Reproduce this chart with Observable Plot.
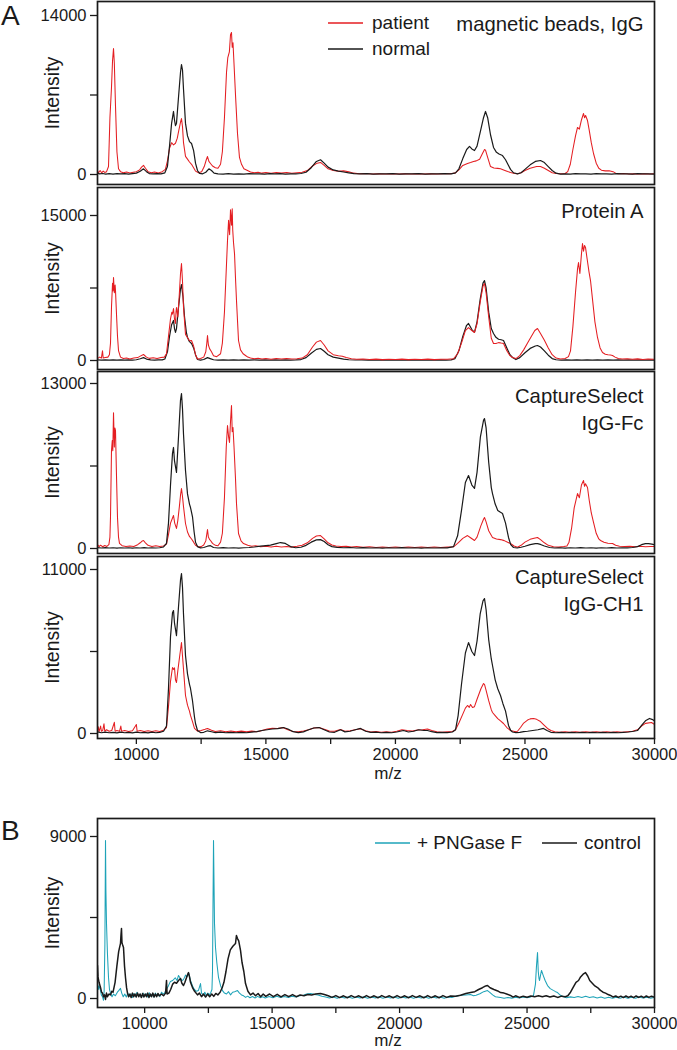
<!DOCTYPE html>
<html><head><meta charset="utf-8">
<script src="https://cdn.jsdelivr.net/npm/d3@7"></script>
<script src="https://cdn.jsdelivr.net/npm/@observablehq/plot@0.6"></script>
<style>
body{margin:0;background:#fff;}
#root{position:relative;width:677px;height:1050px;overflow:hidden;font-family:Arial,"Liberation Sans",Helvetica,sans-serif;color:#1a1a1a;}
</style></head><body><div id="root"></div>
<script>
// ---------- data: [m/z, intensity] ----------
const beadsPatient = [[8500,300],[8540,150],[8600,350],[8660,150],[8720,300],[8780,180],[8850,250],[8925,700],[8980,5000],[9040,7660],[9080,10000],[9118,11090],[9150,9800],[9195,6000],[9250,2000],[9311,500],[9388,250],[9500,150],[9620,220],[9750,130],[9880,200],[10000,250],[10120,400],[10200,650],[10276,800],[10350,550],[10450,250],[10580,150],[10700,220],[10850,130],[11000,250],[11120,450],[11200,1200],[11280,2300],[11360,2800],[11434,2600],[11510,2750],[11580,3200],[11640,3900],[11704,4600],[11742,4930],[11781,4200],[11820,2800],[11897,1600],[11974,1350],[12050,1100],[12130,900],[12210,600],[12283,300],[12399,150],[12520,250],[12620,700],[12700,1300],[12746,1580],[12800,1150],[12862,970],[12940,750],[13050,600],[13150,550],[13250,900],[13320,2000],[13400,5000],[13480,9000],[13530,10300],[13590,10800],[13634,12300],[13672,12500],[13700,11200],[13730,11600],[13760,10200],[13827,7000],[13904,3610],[13980,1500],[14060,900],[14150,500],[14290,350],[14406,220],[14550,150],[14700,200],[14850,120],[15000,180],[15200,110],[15400,170],[15600,120],[15800,180],[16000,110],[16200,150],[16400,200],[16600,350],[16800,750],[16980,1000],[17108,1060],[17250,800],[17400,500],[17600,350],[17800,280],[18000,320],[18200,250],[18382,120],[18600,60],[18850,80],[19100,50],[19350,70],[19600,40],[19850,70],[20100,50],[20350,70],[20600,40],[20850,70],[21100,50],[21350,70],[21600,40],[21850,70],[22100,60],[22300,120],[22450,400],[22600,800],[22782,970],[22900,1050],[23014,1140],[23120,1200],[23250,1350],[23350,1800],[23440,2200],[23477,2150],[23560,1500],[23670,700],[23800,580],[23950,540],[24056,500],[24200,380],[24330,260],[24442,180],[24600,90],[24712,60],[24850,150],[25000,350],[25200,550],[25450,700],[25600,700],[25750,550],[25900,350],[26050,150],[26200,80],[26372,60],[26550,90],[26650,250],[26750,900],[26850,2200],[26951,3400],[27028,4140],[27100,4000],[27180,4800],[27260,5370],[27300,5000],[27340,5200],[27414,4750],[27480,3900],[27560,2800],[27646,1850],[27750,1000],[27850,550],[27950,380],[28100,320],[28250,330],[28400,250],[28500,120],[28600,60],[28800,80],[29000,50],[29200,70],[29400,40],[29600,70],[29800,50],[30000,60]];
const beadsNormal = [[8500,120],[8580,60],[8700,90],[8820,40],[8950,70],[9100,40],[9250,80],[9400,50],[9550,70],[9700,40],[9850,80],[10000,120],[10150,280],[10276,500],[10391,250],[10500,80],[10650,50],[10800,70],[10950,60],[11100,150],[11200,700],[11280,2500],[11360,4500],[11434,5550],[11472,4800],[11510,4310],[11549,4500],[11627,6800],[11704,9000],[11742,9680],[11781,9200],[11820,7500],[11897,4500],[11974,3400],[12050,2900],[12130,2730],[12210,2100],[12283,1000],[12360,350],[12440,100],[12560,60],[12680,200],[12800,500],[12900,350],[13000,120],[13150,60],[13350,40],[13550,70],[13750,40],[13950,60],[14150,40],[14350,70],[14550,50],[14750,60],[14950,40],[15150,80],[15350,50],[15550,70],[15750,40],[15950,60],[16150,50],[16350,90],[16550,200],[16750,600],[16950,1150],[17108,1300],[17250,1000],[17400,650],[17600,400],[17800,300],[18000,220],[18200,150],[18400,80],[18650,50],[18900,70],[19150,40],[19400,60],[19650,50],[19900,70],[20150,40],[20400,60],[20650,50],[20900,70],[21150,40],[21400,60],[21650,50],[21900,70],[22150,60],[22320,150],[22450,500],[22600,1400],[22750,2200],[22859,2470],[22950,2250],[23052,2110],[23150,2500],[23280,3800],[23400,5000],[23477,5550],[23560,5000],[23670,3500],[23786,2380],[23900,1950],[24000,1800],[24133,1670],[24250,1300],[24365,800],[24442,450],[24560,150],[24712,50],[24850,150],[25000,450],[25200,850],[25400,1150],[25600,1230],[25750,1050],[25900,700],[26050,350],[26200,120],[26372,40],[26550,60],[26750,40],[26950,70],[27150,50],[27350,60],[27550,40],[27750,70],[27950,50],[28150,60],[28350,40],[28550,70],[28750,50],[28950,60],[29150,40],[29350,70],[29550,50],[29750,60],[30000,40]];
const protAPatient = [[8500,200],[8580,350],[8650,250],[8693,1000],[8720,250],[8800,300],[8900,350],[8960,600],[9002,1800],[9040,5500],[9080,8000],[9100,7200],[9118,8580],[9150,7000],[9180,7800],[9195,7240],[9230,5000],[9272,2500],[9311,1030],[9388,350],[9500,200],[9620,250],[9750,150],[9900,250],[10050,300],[10150,450],[10276,620],[10391,350],[10500,220],[10650,280],[10800,200],[10950,300],[11080,350],[11163,700],[11240,2500],[11318,4300],[11370,5000],[11395,4800],[11434,5380],[11472,4300],[11510,3830],[11530,5000],[11549,5480],[11600,4500],[11650,6500],[11704,9000],[11742,10030],[11781,8200],[11820,5500],[11897,2700],[11974,2380],[12050,2050],[12130,2070],[12210,1500],[12283,600],[12360,150],[12476,200],[12600,350],[12680,900],[12720,1800],[12746,2590],[12780,1600],[12830,1200],[12900,900],[12978,500],[13100,400],[13250,700],[13320,1800],[13400,5000],[13480,10000],[13518,12400],[13560,14500],[13600,13000],[13634,15600],[13672,14000],[13700,15700],[13720,13500],[13750,12200],[13790,11000],[13827,8500],[13865,6200],[13943,2070],[14020,1100],[14120,700],[14213,520],[14300,350],[14406,250],[14550,180],[14700,230],[14850,150],[15000,200],[15200,130],[15400,200],[15600,150],[15800,200],[16000,150],[16200,180],[16400,250],[16600,600],[16800,1400],[16950,1900],[17108,2070],[17250,1600],[17400,1000],[17600,600],[17800,500],[17950,450],[18100,300],[18300,180],[18500,120],[18750,150],[19000,100],[19250,140],[19500,90],[19750,130],[20000,100],[20250,140],[20500,90],[20750,130],[21000,100],[21250,140],[21500,90],[21750,130],[22000,120],[22242,180],[22400,700],[22550,1800],[22700,3100],[22821,3410],[22950,3100],[23052,2900],[23150,3800],[23270,6000],[23380,7700],[23438,7960],[23500,7000],[23600,4500],[23700,2300],[23786,1760],[23880,1750],[23980,1850],[24080,1800],[24172,1760],[24300,1000],[24420,500],[24519,310],[24650,200],[24800,500],[24950,1100],[25100,1800],[25250,2500],[25380,3100],[25484,3310],[25600,2800],[25750,2100],[25900,1300],[26050,600],[26200,250],[26372,150],[26550,200],[26680,400],[26758,1000],[26850,3500],[26950,7000],[27030,9500],[27067,10130],[27120,9000],[27180,11000],[27221,12100],[27260,11300],[27300,11900],[27337,11700],[27400,10500],[27470,9200],[27530,8270],[27600,6500],[27700,4000],[27800,2380],[27900,1300],[27993,830],[28100,650],[28200,600],[28300,560],[28379,520],[28480,350],[28600,200],[28750,150],[28950,180],[29150,120],[29350,170],[29550,110],[29750,160],[30000,130]];
const protANormal = [[8500,60],[8650,30],[8800,60],[8950,40],[9100,70],[9250,30],[9400,60],[9550,40],[9700,70],[9850,40],[10000,80],[10150,180],[10276,300],[10391,150],[10550,60],[10700,40],[10850,70],[11000,60],[11100,150],[11200,900],[11280,2500],[11360,3700],[11434,4140],[11472,3300],[11510,2900],[11549,3300],[11627,5500],[11704,7400],[11742,7860],[11800,6600],[11860,4500],[11930,2900],[11974,2380],[12050,1950],[12130,1760],[12210,1300],[12283,600],[12360,100],[12476,40],[12600,100],[12746,300],[12850,200],[12978,80],[13150,40],[13350,70],[13550,30],[13750,60],[13950,40],[14150,70],[14350,30],[14550,60],[14750,40],[14950,70],[15150,30],[15350,60],[15550,40],[15750,70],[15950,40],[16150,60],[16350,100],[16550,300],[16750,750],[16950,1150],[17108,1240],[17250,950],[17400,600],[17600,350],[17800,250],[18000,150],[18200,80],[18450,50],[18700,70],[18950,40],[19200,60],[19450,30],[19700,60],[19950,40],[20200,70],[20450,30],[20700,60],[20950,40],[21200,70],[21450,30],[21700,60],[21950,40],[22150,70],[22300,200],[22450,1000],[22600,2500],[22740,3600],[22821,3830],[22950,3200],[23052,2900],[23150,4000],[23270,6300],[23380,8000],[23438,8270],[23500,7500],[23600,5000],[23700,3300],[23786,2790],[23880,2400],[23980,2200],[24080,2150],[24172,2070],[24300,1300],[24420,600],[24519,310],[24650,100],[24800,300],[25000,800],[25200,1250],[25400,1500],[25484,1550],[25600,1400],[25750,1000],[25900,550],[26050,200],[26200,80],[26400,40],[26600,60],[26800,30],[27000,60],[27200,40],[27400,70],[27600,30],[27800,60],[28000,40],[28200,70],[28400,30],[28600,60],[28800,40],[29000,70],[29200,30],[29400,60],[29600,40],[29800,70],[30000,40]];
const fcPatient = [[8500,300],[8560,150],[8620,260],[8700,140],[8780,240],[8860,160],[8940,300],[8980,900],[9002,2500],[9040,7720],[9070,8500],[9090,7700],[9118,10700],[9150,8000],[9170,9500],[9195,9300],[9230,6000],[9272,2440],[9311,900],[9349,400],[9450,220],[9600,150],[9750,200],[9900,160],[10050,300],[10150,450],[10230,600],[10276,630],[10350,450],[10450,250],[10600,160],[10750,220],[10900,160],[11050,200],[11163,350],[11240,1100],[11318,2000],[11395,2400],[11434,2600],[11480,2000],[11549,1580],[11600,2200],[11660,3300],[11704,4200],[11742,4730],[11781,4100],[11820,3300],[11897,1970],[11974,1300],[12050,950],[12130,750],[12210,500],[12283,250],[12400,120],[12500,150],[12600,280],[12680,600],[12746,1500],[12780,900],[12830,700],[12862,630],[12940,400],[13050,250],[13150,220],[13250,500],[13320,1200],[13400,4000],[13470,8000],[13518,9690],[13560,8800],[13595,8350],[13634,10000],[13672,11270],[13700,9200],[13730,9530],[13770,8000],[13827,5500],[13865,3550],[13943,1180],[14040,600],[14136,390],[14300,260],[14450,170],[14600,220],[14800,130],[15000,180],[15200,110],[15400,170],[15600,120],[15800,160],[16000,110],[16200,170],[16400,250],[16600,450],[16800,800],[16950,980],[17108,1020],[17250,750],[17400,450],[17550,280],[17700,200],[17900,150],[18100,180],[18300,110],[18500,150],[18750,90],[19000,130],[19250,80],[19500,120],[19750,80],[20000,120],[20250,80],[20500,120],[20750,80],[21000,120],[21250,80],[21500,120],[21750,80],[22000,110],[22242,130],[22400,400],[22600,800],[22782,1020],[22900,850],[23052,630],[23150,900],[23300,1800],[23400,2300],[23438,2440],[23500,2100],[23600,1400],[23747,870],[23900,750],[24056,700],[24200,620],[24330,500],[24442,390],[24580,200],[24712,100],[24850,250],[25000,500],[25200,720],[25350,800],[25484,870],[25600,700],[25750,450],[25900,250],[26102,130],[26300,110],[26500,150],[26620,200],[26700,500],[26800,1600],[26900,3200],[27028,4330],[27100,4000],[27180,5000],[27260,5360],[27300,4900],[27337,5100],[27414,4810],[27480,3800],[27560,2800],[27646,2050],[27750,1200],[27850,750],[27916,630],[28050,500],[28200,420],[28379,390],[28500,250],[28650,180],[28850,150],[29050,180],[29250,140],[29450,170],[29650,130],[29850,160],[30000,150]];
const fcNormal = [[8500,70],[8650,40],[8800,70],[8950,40],[9100,60],[9250,30],[9400,60],[9550,40],[9700,60],[9850,30],[10000,60],[10150,40],[10300,70],[10450,40],[10600,60],[10750,40],[10900,60],[11050,120],[11163,400],[11240,2000],[11318,5000],[11395,7500],[11434,7960],[11472,6900],[11549,5990],[11627,8800],[11704,11700],[11742,12210],[11781,11000],[11820,9000],[11897,6150],[11974,4300],[12050,3500],[12090,3230],[12167,2500],[12230,1300],[12283,500],[12360,150],[12476,50],[12600,80],[12746,180],[12862,220],[12978,80],[13150,40],[13350,70],[13550,40],[13750,60],[13950,30],[14150,60],[14350,80],[14550,120],[14792,180],[15000,220],[15178,260],[15400,380],[15564,470],[15750,400],[15950,150],[16150,60],[16350,100],[16550,250],[16750,500],[16950,680],[17108,700],[17250,550],[17400,300],[17550,150],[17750,90],[18000,60],[18250,80],[18500,40],[18750,70],[19000,40],[19250,60],[19500,30],[19750,60],[20000,40],[20250,70],[20500,40],[20750,60],[21000,30],[21250,60],[21500,40],[21750,60],[22000,50],[22242,150],[22400,1000],[22550,3000],[22700,5200],[22821,5750],[22950,5000],[23052,4730],[23150,6000],[23280,8800],[23400,10100],[23438,10240],[23500,9500],[23600,6800],[23700,4800],[23747,4330],[23850,3500],[23950,3000],[24056,2850],[24133,2760],[24250,2000],[24365,870],[24450,300],[24558,80],[24700,40],[24850,100],[25000,180],[25200,300],[25400,380],[25484,390],[25600,320],[25750,200],[25950,80],[26150,40],[26350,60],[26550,30],[26750,60],[26950,40],[27150,70],[27350,40],[27550,60],[27750,30],[27950,60],[28150,40],[28350,70],[28550,40],[28750,60],[28950,50],[29150,80],[29344,150],[29500,300],[29650,380],[29769,390],[29900,350],[30000,300]];
const ch1Patient = [[8500,150],[8530,450],[8560,120],[8620,500],[8650,150],[8700,200],[8750,650],[8780,150],[8850,250],[8950,150],[9050,200],[9150,750],[9180,150],[9250,200],[9350,150],[9400,500],[9430,150],[9550,200],[9700,130],[9850,180],[10000,600],[10030,150],[10150,200],[10300,130],[10450,180],[10600,130],[10750,180],[10900,140],[11050,220],[11163,400],[11240,1800],[11318,3500],[11395,4430],[11434,4300],[11472,4400],[11510,3600],[11549,3420],[11600,4200],[11680,5300],[11742,6100],[11781,5200],[11820,4300],[11897,2550],[11974,1900],[12050,1500],[12090,1210],[12167,800],[12244,340],[12360,160],[12500,200],[12650,280],[12746,340],[12900,220],[13050,140],[13250,180],[13450,120],[13650,170],[13850,110],[14050,160],[14250,110],[14450,160],[14650,120],[14850,200],[15050,300],[15250,350],[15450,330],[15650,400],[15850,250],[16050,130],[16250,110],[16450,160],[16650,250],[16850,370],[17050,400],[17250,280],[17450,160],[17650,150],[17880,270],[18050,150],[18250,180],[18450,250],[18652,320],[18850,180],[19050,100],[19250,130],[19450,90],[19650,120],[19850,90],[20050,150],[20250,250],[20450,200],[20650,160],[20850,230],[21050,250],[21238,300],[21400,200],[21600,110],[21800,90],[22000,110],[22200,130],[22319,250],[22450,700],[22600,1300],[22700,1700],[22782,1880],[22850,1750],[22900,1950],[22975,1740],[23050,1800],[23150,2300],[23300,3000],[23400,3350],[23438,3300],[23500,2900],[23600,2200],[23700,1600],[23747,1410],[23850,1200],[23950,1000],[24056,850],[24172,670],[24300,400],[24442,200],[24600,130],[24712,150],[24828,400],[24950,700],[25100,900],[25200,980],[25330,1010],[25450,950],[25600,800],[25716,600],[25870,340],[26000,200],[26150,120],[26350,90],[26550,120],[26750,90],[26950,120],[27150,90],[27350,120],[27550,90],[27750,120],[27950,90],[28150,120],[28350,90],[28550,120],[28750,90],[28950,120],[29150,150],[29344,250],[29500,500],[29650,680],[29884,740],[30000,600]];
const ch1Normal = [[8500,110],[8650,50],[8800,90],[8950,50],[9100,80],[9250,40],[9400,90],[9550,50],[9700,80],[9850,40],[10000,90],[10150,50],[10300,80],[10450,40],[10600,90],[10750,50],[10900,80],[11050,150],[11163,500],[11240,3000],[11318,6500],[11395,8100],[11434,8250],[11472,7400],[11549,6570],[11627,8500],[11704,10300],[11742,10730],[11781,9800],[11820,8000],[11897,5230],[11974,4000],[12050,3300],[12090,3020],[12167,2200],[12244,1100],[12283,670],[12360,200],[12476,60],[12600,80],[12746,180],[12900,120],[13050,60],[13250,90],[13450,50],[13650,80],[13850,50],[14050,80],[14250,50],[14450,90],[14650,130],[14850,200],[15050,250],[15250,300],[15450,330],[15680,400],[15850,300],[16050,120],[16250,60],[16450,110],[16650,250],[16850,370],[17050,400],[17250,250],[17450,100],[17650,80],[17880,250],[18050,110],[18250,150],[18450,250],[18652,340],[18850,150],[19050,70],[19250,90],[19450,50],[19650,80],[19850,50],[20050,100],[20312,200],[20500,100],[20700,150],[20900,250],[21100,200],[21238,200],[21400,120],[21600,60],[21800,80],[22000,60],[22200,100],[22319,250],[22420,1200],[22550,3300],[22700,5400],[22821,6100],[22950,5500],[23052,5230],[23150,6200],[23270,8000],[23380,8900],[23438,9050],[23500,8300],[23600,6300],[23700,5000],[23747,4560],[23850,3600],[23950,3000],[24056,2550],[24150,2000],[24250,1500],[24365,540],[24450,200],[24519,100],[24650,60],[24800,80],[24950,120],[25100,150],[25300,200],[25500,250],[25716,340],[25850,200],[26000,80],[26200,50],[26400,80],[26600,50],[26800,80],[27000,50],[27200,80],[27400,50],[27600,80],[27800,50],[28000,80],[28200,50],[28400,80],[28600,50],[28800,80],[29000,100],[29200,150],[29344,200],[29500,550],[29650,850],[29807,1010],[29900,950],[30000,850]];
const pngase = [[8150,890],[8180,500],[8210,700],[8268,440],[8300,200],[8346,100],[8385,-100],[8410,400],[8440,3000],[8464,8780],[8480,6000],[8503,4170],[8540,2500],[8582,1170],[8620,500],[8660,300],[8720,100],[8780,250],[8850,150],[8930,350],[8990,450],[9052,560],[9100,300],[9160,100],[9220,250],[9280,80],[9340,300],[9400,120],[9460,250],[9520,60],[9580,280],[9640,100],[9700,350],[9760,120],[9820,250],[9880,60],[9940,300],[10000,120],[10060,260],[10120,80],[10180,320],[10240,120],[10300,250],[10360,80],[10420,300],[10480,150],[10540,250],[10600,100],[10660,350],[10720,250],[10780,300],[10850,500],[10930,700],[11010,950],[11100,1000],[11200,1150],[11270,1000],[11328,1280],[11406,1100],[11470,1000],[11524,1050],[11602,1300],[11660,1200],[11720,1440],[11798,1000],[11877,700],[11950,500],[12030,400],[12110,450],[12191,830],[12230,300],[12300,200],[12360,350],[12420,150],[12480,300],[12540,200],[12600,350],[12640,500],[12661,1500],[12680,5000],[12701,8780],[12720,6500],[12740,4170],[12779,2830],[12830,2000],[12897,1170],[12980,700],[13054,440],[13130,300],[13210,250],[13290,380],[13370,200],[13450,350],[13530,380],[13642,440],[13720,300],[13800,200],[13880,150],[13960,60],[14040,130],[14130,40],[14230,110],[14330,30],[14430,120],[14530,40],[14630,100],[14730,30],[14880,110],[15030,40],[15180,120],[15330,50],[15480,110],[15630,60],[15780,130],[15930,80],[16080,150],[16230,180],[16350,250],[16506,280],[16650,230],[16800,200],[16950,120],[17100,80],[17250,30],[17400,90],[17550,20],[17700,80],[17850,30],[18000,90],[18150,20],[18300,80],[18450,30],[18600,90],[18750,20],[18900,80],[19050,30],[19200,90],[19350,20],[19500,80],[19650,30],[19800,90],[19950,20],[20100,80],[20250,30],[20400,90],[20550,20],[20700,80],[20850,30],[21000,90],[21150,20],[21300,80],[21450,30],[21600,90],[21750,20],[21900,80],[22050,50],[22200,120],[22390,180],[22600,200],[22783,220],[22900,150],[23000,180],[23150,260],[23300,380],[23450,440],[23550,330],[23650,200],[23760,100],[23960,50],[24100,10],[24250,60],[24400,20],[24550,70],[24700,30],[24850,80],[25000,40],[25150,90],[25250,150],[25330,800],[25370,1800],[25411,2560],[25440,1500],[25470,1100],[25490,1000],[25530,1300],[25568,1560],[25630,1300],[25710,1000],[25804,720],[25910,550],[26030,450],[26120,380],[26196,330],[26310,180],[26431,100],[26550,40],[26700,90],[26850,50],[27000,110],[27150,60],[27300,120],[27450,50],[27600,100],[27750,30],[27900,80],[28050,20],[28200,70],[28350,10],[28500,70],[28650,20],[28800,80],[28950,20],[29100,70],[29250,20],[29400,80],[29550,30],[29700,70],[29850,20],[30000,60]];
const control = [[8150,1830],[8170,1200],[8210,900],[8268,610],[8310,350],[8346,300],[8385,100],[8425,200],[8464,-50],[8503,300],[8542,100],[8600,250],[8660,200],[8710,400],[8760,350],[8840,900],[8910,1800],[8980,2600],[9052,3060],[9070,3500],[9091,3890],[9110,3100],[9131,3000],[9170,2830],[9210,1800],[9248,1170],[9290,600],[9327,300],[9370,100],[9420,250],[9470,50],[9520,300],[9570,100],[9620,250],[9670,80],[9720,300],[9770,100],[9820,250],[9870,50],[9920,280],[9970,80],[10020,250],[10070,100],[10120,300],[10170,50],[10220,250],[10270,100],[10320,300],[10370,80],[10420,250],[10470,100],[10520,280],[10570,150],[10660,250],[10740,150],[10820,300],[10857,1000],[10880,250],[10950,300],[11020,500],[11100,800],[11170,900],[11250,850],[11328,1000],[11406,1110],[11460,850],[11524,720],[11580,900],[11650,1200],[11720,1440],[11760,1200],[11798,900],[11877,610],[11960,400],[12073,200],[12150,300],[12230,100],[12310,250],[12390,80],[12470,250],[12550,100],[12630,250],[12710,120],[12790,280],[12870,200],[12960,350],[13040,600],[13110,900],[13190,1500],[13270,2200],[13360,2700],[13460,2900],[13564,3060],[13600,3500],[13642,3330],[13690,3200],[13760,2670],[13820,2000],[13890,1500],[13956,830],[14050,400],[14152,200],[14250,300],[14350,150],[14450,280],[14550,100],[14650,250],[14750,120],[14900,250],[15050,100],[15200,230],[15350,90],[15500,220],[15650,100],[15800,220],[15950,100],[16100,200],[16250,150],[16400,220],[16550,200],[16700,250],[16898,280],[17050,220],[17200,150],[17350,60],[17500,160],[17650,50],[17800,150],[17950,40],[18100,160],[18250,60],[18400,150],[18550,40],[18700,160],[18850,50],[19000,150],[19150,40],[19300,160],[19450,60],[19600,150],[19750,40],[19900,160],[20050,50],[20200,150],[20350,40],[20500,160],[20650,60],[20800,150],[20950,40],[21100,160],[21250,50],[21400,150],[21550,40],[21700,160],[21850,60],[22000,140],[22200,120],[22390,180],[22600,280],[22783,330],[22950,380],[23100,500],[23250,600],[23380,700],[23450,720],[23550,600],[23700,500],[23850,420],[23960,330],[24100,300],[24200,250],[24352,170],[24450,80],[24550,150],[24700,60],[24850,130],[25000,70],[25150,140],[25300,100],[25450,150],[25600,100],[25750,150],[25900,80],[26050,140],[26200,60],[26350,130],[26500,100],[26600,150],[26706,350],[26820,650],[26920,900],[27020,1000],[27100,1200],[27200,1350],[27294,1440],[27380,1250],[27460,1000],[27560,850],[27660,700],[27765,610],[27880,450],[27980,350],[28080,300],[28180,220],[28275,170],[28380,80],[28480,140],[28580,60],[28680,130],[28780,50],[28880,140],[28980,60],[29080,130],[29180,50],[29280,140],[29380,60],[29480,130],[29580,50],[29680,140],[29780,60],[29880,130],[30000,80]];

const panelTitles = ["magnetic beads, IgG", "Protein A", "CaptureSelect\nIgG-Fc", "CaptureSelect\nIgG-CH1", ""];
const yMaxTicks = [14000, 15000, 13000, 11000, 9000];
const xTicks = [10000, 12500, 15000, 17500, 20000, 22500, 25000, 27500, 30000];
const xLabelTicks = [10000, 15000, 20000, 25000, 30000];
const legendA = ["patient", "normal"];
const legendB = ["+ PNGase F", "control"];
const axisTitleY = "Intensity";
const axisTitleX = "m/z";

// ---------- styles / layout ----------
const INK = "#1a1a1a", RED = "#e41e22", CYAN = "#1ea3b8";
const FONT = 'Arial, "Liberation Sans", Helvetica, sans-serif';
const root = document.getElementById("root");

const layouts = [
  {series: [beadsPatient, beadsNormal], colors: [RED, INK], xDomain: [8500, 30000], top: 1, bottom: 184, zeroY: 174, maxY: 15, titleBase: 30},
  {series: [protANormal, protAPatient], colors: [INK, RED], xDomain: [8500, 30000], top: 187, bottom: 369, zeroY: 360, maxY: 215, titleBase: 217},
  {series: [fcPatient, fcNormal], colors: [RED, INK], xDomain: [8500, 30000], top: 371, bottom: 553, zeroY: 548, maxY: 383, titleBase: 429},
  {series: [ch1Patient, ch1Normal], colors: [RED, INK], xDomain: [8500, 30000], top: 556, bottom: 738, zeroY: 733, maxY: 569, titleBase: 610, xAxis: true, mzBase: 778},
  {series: [pngase, control], colors: [CYAN, INK], xDomain: [8150, 30000], top: 818, bottom: 1007, zeroY: 998, maxY: 836, titleBase: 840, xAxis: true, mzBase: 1045}
];

layouts.forEach((p, i) => {
  const max = yMaxTicks[i];
  const mt = 12, mb = p.xAxis ? 52 : 12;
  const k = (p.zeroY - p.maxY) / max;
  const yDom = [-(p.bottom - p.zeroY) / k, max + (p.maxY - p.top) / k];
  const marks = [
    Plot.axisY({ticks: [0, max / 2, max], tickFormat: d => (d === 0 || d === max) ? String(d) : "", tickSize: 7, tickPadding: 4, label: null, strokeWidth: 1.3, fontSize: 16.5})
  ];
  if (p.xAxis) marks.push(Plot.axisX({ticks: xTicks, tickFormat: d => xLabelTicks.includes(d) ? String(d) : "", tickSize: 6, tickPadding: 4, label: null, strokeWidth: 1.3, fontSize: 16.5}));
  p.series.forEach((s, j) => marks.push(Plot.line(s, {x: d => d[0], y: d => d[1], stroke: p.colors[j], strokeWidth: p.colors[j] === INK ? (i === 4 ? 1.5 : 1.2) : 1.05, clip: true})));
  marks.push(Plot.frame({stroke: INK, strokeWidth: 1.7}));
  if (panelTitles[i]) marks.push(Plot.text([panelTitles[i]], {frameAnchor: "top-right", dx: -11, dy: p.titleBase - p.top, lineAnchor: "bottom", textAnchor: "end", fontSize: 20.3, lineHeight: 1.33, fill: INK}));
  marks.push(Plot.text([axisTitleY], {frameAnchor: "left", dx: -45, rotate: -90, textAnchor: "middle", lineAnchor: "middle", fontSize: 19.5, fill: INK}));
  if (p.xAxis) marks.push(Plot.text([axisTitleX], {frameAnchor: "bottom", dx: 12, dy: p.mzBase - p.bottom, lineAnchor: "bottom", textAnchor: "middle", fontSize: 17, fill: INK}));
  const chart = Plot.plot({
    width: 677, height: mt + (p.bottom - p.top) + mb,
    marginTop: mt, marginBottom: mb, marginLeft: 97, marginRight: 23,
    x: {domain: p.xDomain, axis: p.xAxis ? undefined : null},
    y: {domain: yDom},
    style: {background: "transparent", overflow: "visible", fontFamily: FONT, fontSize: "16.5px", color: INK},
    marks
  });
  chart.style.position = "absolute";
  chart.style.left = "0px";
  chart.style.top = (p.top - mt) + "px";
  chart.style.maxWidth = "none";
  root.appendChild(chart);
});

// ---------- legends and panel letters ----------
const ov = d3.select(root).append("svg")
  .attr("width", 677).attr("height", 1050)
  .style("position", "absolute").style("left", 0).style("top", 0)
  .style("pointer-events", "none").style("font-family", FONT);

const legA = [{label: legendA[0], color: RED, x: 328, y: 23}, {label: legendA[1], color: INK, x: 328, y: 49}];
const legBx = [{label: legendB[0], color: CYAN, x: 375, y: 843}, {label: legendB[1], color: INK, x: 542, y: 843}];
[...legA, ...legBx].forEach(d => {
  ov.append("line").attr("x1", d.x).attr("x2", d.x + 35).attr("y1", d.y).attr("y2", d.y)
    .attr("stroke", d.color).attr("stroke-width", 1.6);
  ov.append("text").attr("x", d.x + (d.y < 100 ? 44 : 42)).attr("y", d.y + 5.5)
    .attr("font-size", 19).attr("fill", INK).text(d.label);
});
ov.append("text").attr("x", 1).attr("y", 25).attr("font-size", 28).attr("fill", INK).text("A");
ov.append("text").attr("x", 1).attr("y", 840).attr("font-size", 28).attr("fill", INK).text("B");
</script>
</body></html>
